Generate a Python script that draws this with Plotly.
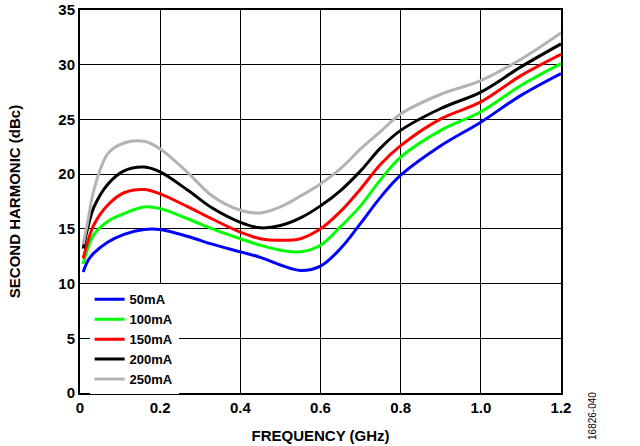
import plotly.graph_objects as go

# frequency points (GHz)
freq = [0.008, 0.02, 0.035, 0.07, 0.11, 0.16, 0.2, 0.27, 0.33, 0.4, 0.45,
        0.5, 0.55, 0.6, 0.65, 0.7, 0.75, 0.8, 0.9, 1.0, 1.1, 1.2]

# second harmonic (dBc) per bias current
h2_50ma = [11.05, 12.1, 12.8, 13.8, 14.5, 14.95, 14.95, 14.3, 13.6, 12.9, 12.4,
           11.7, 11.2, 11.6, 13.2, 15.5, 17.9, 19.9, 22.6, 24.75, 27.2, 29.2]
h2_100ma = [11.8, 13.3, 14.5, 15.7, 16.4, 17.0, 16.85, 15.9, 15.0, 14.1, 13.5,
            13.05, 12.9, 13.5, 15.2, 17.1, 19.5, 21.55, 24.0, 25.7, 28.1, 30.1]
h2_150ma = [12.3, 13.9, 15.4, 17.2, 18.3, 18.6, 18.2, 17.0, 15.9, 14.7, 14.1,
            13.95, 14.1, 15.0, 16.6, 18.65, 20.9, 22.6, 25.05, 26.6, 29.0, 30.95]
h2_200ma = [13.2, 15.2, 17.0, 19.1, 20.3, 20.65, 20.2, 18.5, 16.9, 15.6, 15.1,
            15.3, 16.0, 17.1, 18.5, 20.3, 22.4, 24.0, 26.0, 27.5, 29.8, 31.9]
h2_250ma = [13.6, 15.8, 18.6, 21.9, 22.85, 23.0, 22.3, 20.1, 18.0, 16.7, 16.45,
            17.0, 18.0, 19.1, 20.5, 22.3, 23.9, 25.5, 27.3, 28.55, 30.5, 32.9]

labels = ['50mA', '100mA', '150mA', '200mA', '250mA']
colors = ['#0000ff', '#00ff00', '#ff0000', '#000000', '#b3b3b3']

x_ticks = [0, 0.2, 0.4, 0.6, 0.8, 1.0, 1.2]
x_ticktext = ['0', '0.2', '0.4', '0.6', '0.8', '1.0', '1.2']
y_ticks = [0, 5, 10, 15, 20, 25, 30, 35]

FONT = 'Liberation Sans, Arial, sans-serif'

fig = go.Figure()
for name, ys, col in zip(labels, [h2_50ma, h2_100ma, h2_150ma, h2_200ma, h2_250ma], colors):
    fig.add_trace(go.Scatter(x=freq, y=ys, mode='lines', name=name,
                             line=dict(color=col, width=3, shape='spline', smoothing=1.0)))

axis_common = dict(showline=True, linecolor='black', linewidth=2, mirror=True,
                   showgrid=True, gridcolor='black', gridwidth=1, zeroline=False,
                   automargin=False, ticks='',
                   tickfont=dict(family=FONT, size=15, color='black', weight='bold'))

fig.update_layout(
    width=640, height=446,
    margin=dict(l=80, r=79, t=10, b=53),
    paper_bgcolor='white', plot_bgcolor='white',
    font=dict(family=FONT, color='black'),
    xaxis=dict(range=[0, 1.2], tickvals=x_ticks, ticktext=x_ticktext,
               title=dict(text='<b>FREQUENCY (GHz)</b>', font=dict(family=FONT, size=15), standoff=15),
               **axis_common),
    yaxis=dict(range=[0, 35], tickvals=y_ticks,
               title=dict(text='<b>SECOND HARMONIC (dBc)</b>', font=dict(family=FONT, size=15), standoff=34),
               **axis_common),
    legend=dict(x=0.02, y=0.14, xanchor='left', yanchor='middle', bgcolor='white',
                font=dict(family=FONT, size=13, color='black', weight='bold'),
                tracegroupgap=0, itemwidth=30),
    showlegend=True,
)

fig.add_annotation(text='16826-040', xref='paper', yref='paper', x=1.0, y=-0.06,
                   xshift=32, textangle=-90, showarrow=False,
                   xanchor='center', yanchor='middle',
                   font=dict(family=FONT, size=10, color='black'))

# page body has a default 8px margin; drop it so the figure sits at the window corner
fig.write_html("out.html", config={'displayModeBar': False},
               post_script="document.body.style.margin='0';")
